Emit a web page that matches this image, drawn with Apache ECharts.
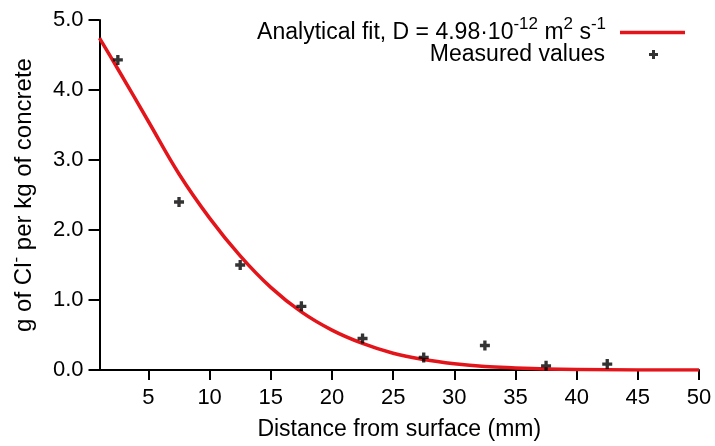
<!DOCTYPE html>
<html>
<head>
<meta charset="utf-8">
<script src="https://cdn.jsdelivr.net/npm/echarts@6/dist/echarts.min.js"></script>
<style>
html,body{margin:0;padding:0;background:#fff;}
#chart{width:715px;height:446px;}
</style>
</head>
<body>
<div id="chart"></div>
<script>
// ---- data ----
const xTickValues = [5, 10, 15, 20, 25, 30, 35, 40, 45, 50];
const yTickValues = [0, 1, 2, 3, 4, 5];
const measuredX = [2.5, 7.5, 12.5, 17.5, 22.5, 27.5, 32.5, 37.5, 42.5];
const measuredY = [4.43, 2.40, 1.50, 0.91, 0.45, 0.18, 0.35, 0.06, 0.085];
const fitX = [1, 2.5, 5, 7.5, 10, 12.5, 15, 17.5, 20, 22.5, 25, 27.5, 30, 32.5, 35, 37.5, 40, 45, 50];
const fitY = [4.74, 4.30, 3.55, 2.80, 2.17, 1.63, 1.18, 0.83, 0.57, 0.38, 0.24, 0.15, 0.09, 0.05, 0.03, 0.015, 0.007, 0.001, 0];
const fitName = 'Analytical fit';
const measuredName = 'Measured values';

const FONT = 'Liberation Sans, Arial, Helvetica, sans-serif';
const plusPath = 'path://M3,0h3v3h3v3h-3v3h-3v-3h-3v-3h3z';

const supStyle = {color: '#000', fontFamily: FONT, fontSize: 17, lineHeight: 16, padding: [0, 0, 16, 0]};
const mainStyle = {color: '#000', fontFamily: FONT, fontSize: 23, lineHeight: 26};
const yMainStyle = {color: '#000', fontFamily: FONT, fontSize: 24, lineHeight: 26};

const chart = echarts.init(document.getElementById('chart'), null, {renderer: 'canvas'});
const option = {
  backgroundColor: '#ffffff',
  animation: false,
  grid: {left: 98, right: 16, top: 20, bottom: 74},
  xAxis: {
    type: 'value',
    min: 1,
    max: 50,
    name: 'Distance from surface (mm)',
    nameLocation: 'middle',
    nameGap: 48,
    nameTextStyle: {color: '#000', fontFamily: FONT, fontSize: 23},
    splitLine: {show: false},
    axisLine: {lineStyle: {color: '#000', width: 2}},
    axisTick: {show: true, length: 10, lineStyle: {color: '#000', width: 2}, customValues: xTickValues},
    axisLabel: {color: '#000', fontFamily: FONT, fontSize: 22, margin: 17, customValues: xTickValues}
  },
  yAxis: {
    type: 'value',
    min: 0,
    max: 5,
    interval: 1,
    name: '{a|g of Cl}{s|-}{a| per kg of concrete}',
    nameLocation: 'middle',
    nameGap: 62,
    nameTextStyle: {
      color: '#000', fontFamily: FONT, fontSize: 24,
      rich: {a: yMainStyle, s: supStyle}
    },
    splitLine: {show: false},
    axisLine: {show: true, lineStyle: {color: '#000', width: 2}},
    axisTick: {show: true, length: 11, lineStyle: {color: '#000', width: 2}},
    axisLabel: {
      color: '#000', fontFamily: FONT, fontSize: 22, margin: 16,
      formatter: v => v.toFixed(1)
    }
  },
  legend: [
    {
      data: [{name: fitName, icon: 'rect'}],
      orient: 'horizontal',
      align: 'right',
      right: 30,
      top: 16,
      padding: 0,
      itemWidth: 65,
      itemHeight: 3.5,
      selectedMode: false,
      formatter: () => '{a|Analytical fit, D = 4.98·10}{s|-12}{a| m}{s|2}{a| s}{s|-1}{sp|}',
      textStyle: {
        color: '#000', fontFamily: FONT, fontSize: 23,
        rich: {a: mainStyle, s: supStyle, sp: {width: 9}}
      }
    },
    {
      data: [{name: measuredName, icon: plusPath}],
      orient: 'horizontal',
      align: 'right',
      right: 57,
      top: 43,
      padding: 0,
      itemWidth: 9,
      itemHeight: 9,
      selectedMode: false,
      formatter: n => '{a|' + n + '}{sp|}',
      textStyle: {
        color: '#000', fontFamily: FONT, fontSize: 23,
        rich: {a: mainStyle, sp: {width: 39}}
      }
    }
  ],
  series: [
    {
      name: fitName,
      type: 'line',
      data: fitX.map((x, i) => [x, fitY[i]]),
      smooth: 0.4,
      symbol: 'none',
      lineStyle: {color: '#e3151b', width: 3.5},
      itemStyle: {color: '#e3151b'},
      z: 3
    },
    {
      name: measuredName,
      type: 'scatter',
      data: measuredX.map((x, i) => [x, measuredY[i]]),
      symbol: plusPath,
      symbolSize: 10,
      itemStyle: {color: '#000'},
      z: 4
    }
  ]
};
chart.setOption(option);
</script>
</body>
</html>
